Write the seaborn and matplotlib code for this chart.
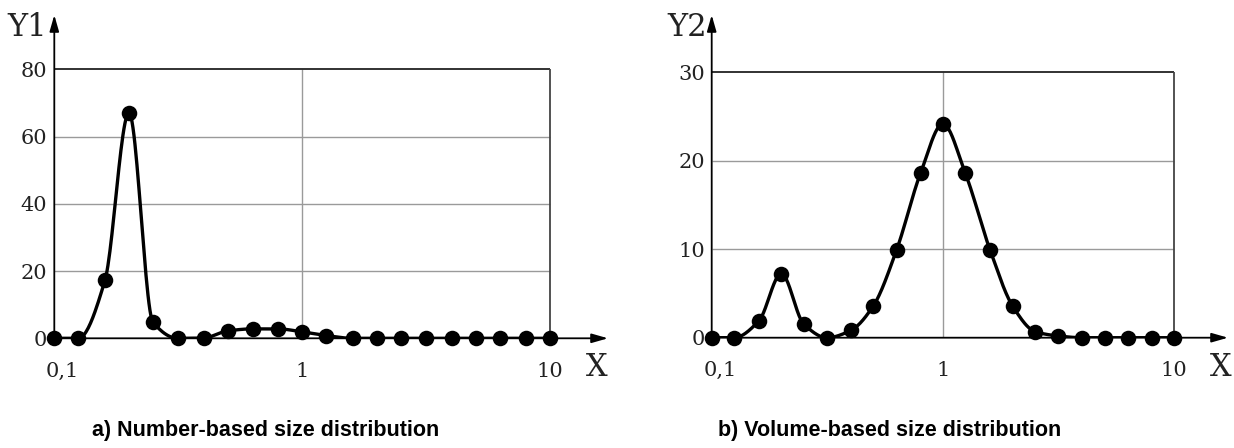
import numpy as np
import seaborn as sns
import matplotlib
matplotlib.use("Agg")
import matplotlib.pyplot as plt
from matplotlib.transforms import ScaledTranslation

# particle size (same 21 sizes on both panels)
sizes = [0.1, 0.125, 0.16, 0.2, 0.25, 0.315, 0.4, 0.5, 0.63, 0.8, 1.0,
         1.25, 1.6, 2.0, 2.5, 3.15, 4.0, 5.0, 6.3, 8.0, 10.0]
# a) number-based distribution
number_pct = [0, 0, 17.2, 67.1, 4.8, 0, 0.1, 2.2, 2.8, 2.8, 1.9,
              0.8, 0, 0, 0, 0, 0, 0, 0, 0, 0]
# b) volume-based distribution
volume_pct = [0, 0, 1.9, 7.25, 1.55, 0, 0.83, 3.6, 9.9, 18.6, 24.2,
              18.6, 9.9, 3.6, 0.7, 0.2, 0, 0, 0, 0, 0]
x_ticks = [0.1, 1, 10]
x_labels = ['0,1', '1', '10']
y1_ticks = [0, 20, 40, 60, 80]
y2_ticks = [0, 10, 20, 30]
titles = ['a) Number-based size distribution', 'b) Volume-based size distribution']


def smooth(xs, ys, n=24):
    """monotone cubic (Fritsch-Carlson) through the points, in log-x"""
    lx = np.log10(np.asarray(xs, float))
    y = np.asarray(ys, float)
    h = np.diff(lx)
    d = np.diff(y) / h
    m = np.zeros_like(y)
    m[0], m[-1] = d[0], d[-1]
    for i in range(1, len(y) - 1):
        if d[i - 1] * d[i] > 0:
            w1 = 2 * h[i] + h[i - 1]
            w2 = h[i] + 2 * h[i - 1]
            m[i] = (w1 + w2) / (w1 / d[i - 1] + w2 / d[i])
    t = np.linspace(0, 1, n, endpoint=False)
    h00 = 2 * t**3 - 3 * t**2 + 1
    h10 = t**3 - 2 * t**2 + t
    h01 = -2 * t**3 + 3 * t**2
    h11 = t**3 - t**2
    ox, oy = [], []
    for i in range(len(y) - 1):
        ox.append(lx[i] + t * h[i])
        oy.append(h00 * y[i] + h10 * h[i] * m[i] + h01 * y[i + 1] + h11 * h[i] * m[i + 1])
    ox.append([lx[-1]])
    oy.append([y[-1]])
    return 10 ** np.concatenate(ox), np.concatenate(oy)


sns.set_style('white')
plt.rcParams['font.family'] = ['DejaVu Serif']

W, H = 1234, 448
fig = plt.figure(figsize=(W / 100, H / 100), dpi=100)

# axes boxes in pixels: x0 (x=0.1), x1 (arrow tip), y0 (y=0), y1 (arrow tip)
panels = [
    dict(box=(54.3, 608, 338.3, 15), ymax=96.2, ytop=80, yt=y1_ticks, data=number_pct,
         ylab='Y1', ylab_x=47, xlab_x=608, title_x=266),
    dict(box=(711.7, 1228, 337.7, 15), ymax=36.5, ytop=30, yt=y2_ticks, data=volume_pct,
         ylab='Y2', ylab_x=707, xlab_x=1231, title_x=890),
]

for i, p in enumerate(panels):
    x0, x1, yb, yt = p['box']
    ax = fig.add_axes([x0 / W, 1 - yb / H, (x1 - x0) / W, (yb - yt) / H])
    ax.set_xscale('log')
    ax.set_xlim(0.1, 17.1)
    ax.set_ylim(0, p['ymax'])
    for s in ax.spines.values():
        s.set_visible(False)

    # grid box
    inner = [v for v in p['yt'] if 0 < v < p['ytop']]
    ax.hlines(inner, 0.1, 10, color='#9a9a9a', lw=1.0, zorder=1)
    ax.vlines(1, 0, p['ytop'], color='#9a9a9a', lw=1.0, zorder=1)
    ax.hlines(p['ytop'], 0.1, 10, color='#222222', lw=1.3, zorder=1)
    ax.vlines(10, 0, p['ytop'], color='#444444', lw=1.3, zorder=1)

    # arrow axes
    arrow = dict(arrowstyle='-|>,head_length=0.7,head_width=0.2', color='black',
                 lw=1.3, shrinkA=0, shrinkB=0, mutation_scale=14)
    ax.annotate('', xy=(1, 0), xytext=(0, 0), xycoords='axes fraction', arrowprops=arrow)
    ax.annotate('', xy=(0, 1), xytext=(0, 0), xycoords='axes fraction', arrowprops=arrow)

    sx, sy = smooth(sizes, p['data'])
    sns.lineplot(x=sx, y=sy, ax=ax, color='black', lw=2.4, sort=False,
                 estimator=None, zorder=3)
    sns.scatterplot(x=sizes, y=p['data'], ax=ax, color='black', s=125,
                    linewidth=0, zorder=5, clip_on=False)

    ax.set_xticks(x_ticks, x_labels)
    ax.minorticks_off()
    ax.set_yticks(p['yt'])
    ax.tick_params(axis='x', length=0, pad=17, labelsize=15, labelcolor='#222222')
    ax.tick_params(axis='y', length=0, pad=5, labelsize=15, labelcolor='#222222')
    first = ax.get_xticklabels()[0]
    first.set_transform(first.get_transform() + ScaledTranslation(6 / 72, 0, fig.dpi_scale_trans))
    ax.set_xlabel('')
    ax.set_ylabel('')

    fig.text(p['ylab_x'] / W, 1 - 27 / H, p['ylab'], ha='right', va='center',
             fontsize=22, color='#222222')
    fig.text(p['xlab_x'] / W, 1 - 367 / H, 'X', ha='right', va='center',
             fontsize=22, color='#222222')
    fig.text(p['title_x'] / W, 1 - 430 / H, titles[i], ha='center', va='center',
             fontsize=15.5, fontweight='bold', family='Liberation Sans', color='black')

fig.savefig('out.png', dpi=100)
